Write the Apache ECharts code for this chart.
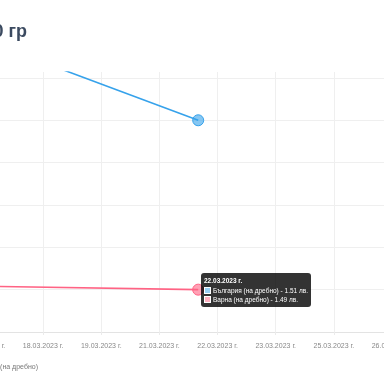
<!DOCTYPE html>
<html><head><meta charset="utf-8">
<script src="https://cdn.jsdelivr.net/npm/echarts@6/dist/echarts.min.js"></script>
<style>html,body{margin:0;padding:0;background:#fff;overflow:hidden}#c{width:384px;height:384px}</style>
</head><body><div id="c"></div>
<script>
const titleText = 'Хляб Добруджа 500 гр';
const tickLabels = ['17.03.2023 г.', '18.03.2023 г.', '19.03.2023 г.', '21.03.2023 г.', '22.03.2023 г.', '23.03.2023 г.', '25.03.2023 г.', '26.03.2023 г.'];
const pointDates = ['17.03.2023 г.', '22.03.2023 г.'];
const pointPos = [0, 11];
const bulgaria = [1.5194, 1.51];
const varna = [1.4904, 1.49];
const seriesNames = ['България (на дребно)', 'Варна (на дребно)'];
const lineColors = ['#36a2eb', '#ff6384'];
const fillColors = ['rgba(54,162,235,0.6)', 'rgba(255,99,132,0.6)'];
const boxColors = ['#9ad0f5', '#ffb1c1'];

const FONT = 'Liberation Sans, Arial, sans-serif';
const cv = document.createElement('canvas').getContext('2d');
function tw(t, f) { cv.font = f; return cv.measureText(t).width; }

const titleW = tw(titleText, 'bold 18px Liberation Sans');
const legFont = '7px Liberation Sans';
const legLeft = 37 - tw(seriesNames[1], legFont) - 5 - 20 - 10 - tw(seriesNames[0], legFont) - 5 - 20;

const chart = echarts.init(document.getElementById('c'), null, {renderer: 'canvas'});
const hoverIdx = 1;
function mkData(vals) {
  return pointPos.map((x, i) => ({value: [x, vals[i]], symbolSize: i === hoverIdx ? 10 : 4}));
}
const option = {
  animation: false,
  backgroundColor: '#fff',
  title: {
    text: titleText, left: 27 - titleW, top: 23, padding: 0,
    textStyle: {fontFamily: FONT, fontSize: 18, fontWeight: 'bold', color: '#3b4a60'}
  },
  legend: {
    left: legLeft, top: 364, itemWidth: 20, itemHeight: 6, itemGap: 10, padding: 0,
    textStyle: {fontFamily: FONT, fontSize: 7, color: '#777'},
    data: seriesNames.map((n, i) => ({name: n, icon: 'rect', itemStyle: {color: fillColors[i], borderColor: lineColors[i], borderWidth: 1}}))
  },
  grid: {left: -15, right: -8, top: 72, bottom: 52, containLabel: false, outerBoundsMode: 'none'},
  tooltip: {
    trigger: 'axis',
    axisPointer: {type: 'none'},
    alwaysShowContent: true,
    transitionDuration: 0,
    showDelay: 0,
    backgroundColor: 'rgba(0,0,0,0.8)',
    borderWidth: 0,
    borderRadius: 3,
    padding: [3, 3],
    extraCssText: 'box-shadow:none;',
    textStyle: {color: '#fff', fontFamily: FONT, fontSize: 6.5},
    position: function () {
      const p = chart.convertToPixel({seriesIndex: 1}, [pointPos[hoverIdx], varna[hoverIdx]]);
      return [p[0] + 3, p[1] - 17];
    },
    formatter: function (params) {
      const i = params[0].dataIndex;
      let h = '<div style="font-weight:bold;line-height:9px;margin-bottom:1px">' + pointDates[i] + '</div>';
      params.forEach(function (p) {
        const s = p.seriesIndex;
        const v = (s === 0 ? bulgaria : varna)[i];
        h += '<div style="line-height:9px;white-space:nowrap"><span style="display:inline-block;width:5px;height:5px;background:' + boxColors[s] + ';border:1px solid #fff;margin-right:2px;vertical-align:-1px"></span>' + seriesNames[s] + ' - ' + v.toFixed(2) + ' лв.</div>';
      });
      return h;
    }
  },
  xAxis: {
    type: 'value', min: 0, max: 21, interval: 3,
    axisLine: {show: true, lineStyle: {color: '#e3e3e3', width: 1}},
    axisTick: {show: true, length: 3, lineStyle: {color: '#ebebeb'}},
    splitLine: {show: true, lineStyle: {color: '#efefef', width: 1}},
    axisLabel: {
      margin: 11, fontFamily: FONT, fontSize: 7, color: '#888',
      showMinLabel: true, showMaxLabel: true,
      formatter: function (v) { return tickLabels[Math.round(v / 3)] || ''; }
    }
  },
  yAxis: {
    type: 'value', min: 1.485, max: 1.5157, interval: 0.005,
    axisLine: {show: false}, axisTick: {show: false}, axisLabel: {show: false},
    splitLine: {show: true, showMaxLine: false, lineStyle: {color: '#efefef', width: 1}}
  },
  series: [0, 1].map(s => ({
    name: seriesNames[s], type: 'line',
    data: mkData(s === 0 ? bulgaria : varna),
    symbol: 'circle',
    showSymbol: true,
    clip: true,
    lineStyle: {color: lineColors[s], width: 1.6},
    itemStyle: {color: fillColors[s], borderColor: lineColors[s], borderWidth: 1},
    emphasis: {disabled: true}
  }))
};
chart.setOption(option);
chart.dispatchAction({type: 'showTip', seriesIndex: 1, dataIndex: hoverIdx});
</script>
</body></html>
